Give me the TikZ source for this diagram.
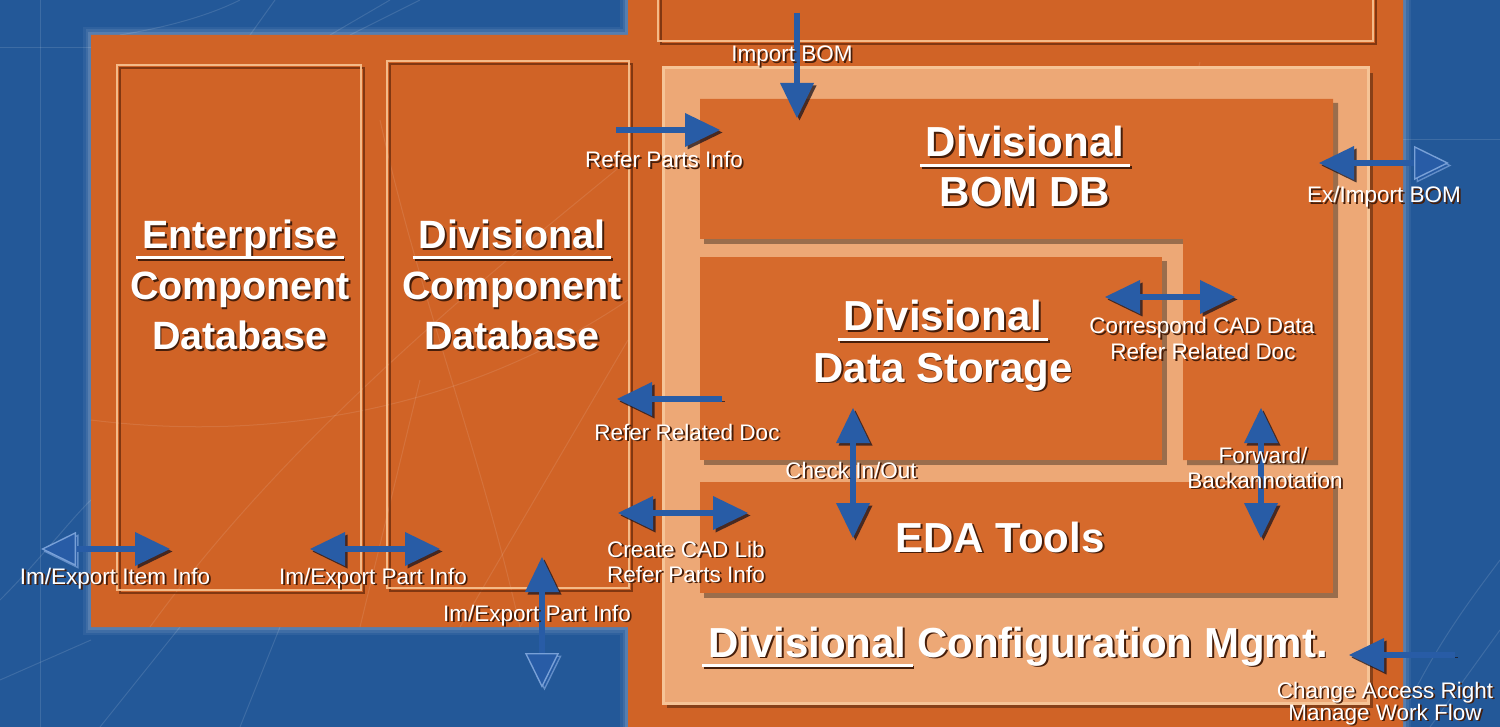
\documentclass[tikz,border=0pt]{standalone}
\usepackage{fontspec}
\setmainfont{Liberation Sans}
\usetikzlibrary{arrows.meta}
\definecolor{bgblue}{RGB}{35,88,152}
\definecolor{orangeA}{RGB}{208,99,38}
\definecolor{orangeB}{RGB}{214,106,44}
\definecolor{peach}{RGB}{237,168,118}
\definecolor{peachlight}{RGB}{246,196,150}
\definecolor{boxlight}{RGB}{244,186,136}
\definecolor{boxdark}{RGB}{110,45,12}
\definecolor{arrowblue}{RGB}{40,92,166}
\definecolor{ghostline}{RGB}{120,160,215}
\definecolor{ashadow}{RGB}{25,20,30}
\definecolor{txtshadow}{RGB}{70,30,10}
\newcommand\shtxt[1]{\rlap{\kern1.8pt\raisebox{-1.8pt}{\color{txtshadow}#1}}#1}
\newcommand\ulw[1]{\setbox0\hbox{#1}\rlap{\kern-6pt\rule[-10pt]{\dimexpr\wd0+12pt\relax}{2.8pt}}\box0}
\tikzset{
  ttl/.style={text=white,font=\fontsize{42}{48}\selectfont\bfseries,anchor=base,inner sep=0pt},
  lttl/.style={text=white,font=\fontsize{39.5}{46}\selectfont\bfseries,anchor=base,inner sep=0pt},
  lbl/.style={text=white,font=\fontsize{22.5}{26}\selectfont,anchor=base,inner sep=0pt},
  tipA/.tip={Triangle[length=35pt,width=34pt,line width=0pt]},
  tipG/.tip={Triangle[length=35pt,width=34pt,line width=1.4pt,color=ghostline,fill=arrowblue]},
  arrowbase/.style={line width=6pt,draw=arrowblue,
     preaction={draw=ashadow,opacity=0.75,transform canvas={shift={(2.5pt,-2.5pt)}}}},
  sarr/.style={arrowbase,-tipA},
  darr/.style={arrowbase,tipA-tipA},
  garrL/.style={arrowbase,tipG-tipA},
  garrR/.style={arrowbase,tipA-tipG},
  boxline/.style={draw=boxlight,line width=2.2pt},
  boxshadow/.style={draw=boxdark,line width=2pt,opacity=0.8},
  dshadow/.style={fill=black,opacity=0.35},
}
\begin{document}
\begin{tikzpicture}[x=1pt,y=-1pt]
\useasboundingbox (0,0) rectangle (1500,727);
% background
\fill[bgblue] (0,0) rectangle (1500,727);
\begin{scope}[draw=white,opacity=0.12,line width=1pt]
  \draw (0,48) -- (91,48);
  \draw (40,0) -- (40,727);
  \draw (1403,140) -- (1500,140);
  \draw (240,0) .. controls (200,20) and (150,30) .. (120,35);
  \draw (250,35) -- (275,0);
  \draw (330,35) -- (390,0);
  \draw (350,35) -- (420,0);
  \draw (0,600) .. controls (40,560) and (70,520) .. (91,500);
  \draw (100,727) -- (180,627);
  \draw (240,727) -- (280,627);
  \draw (1410,700) .. controls (1440,640) and (1470,600) .. (1500,560);
  \draw (1430,727) -- (1500,630);
  \draw (0,680) -- (91,640);
\end{scope}
% main orange region with soft glow
\foreach \w/\o in {16/0.06,11/0.08,6/0.12}{
\path[draw=white,opacity=\o,line width=\w pt]
  (91,35) -- (628,35) -- (628,-5) -- (1403,-5) -- (1403,732) -- (628,732) -- (628,627) -- (91,627) -- cycle;
}
\fill[orangeA]
  (91,35) -- (628,35) -- (628,-5) -- (1403,-5) -- (1403,732) -- (628,732) -- (628,627) -- (91,627) -- cycle;
\begin{scope}[draw=white,opacity=0.10,line width=1pt]
  \draw (150,627) .. controls (300,420) and (520,250) .. (628,160);
  \draw (360,627) -- (420,380);
  \draw (460,627) -- (628,340);
  \draw (91,420) .. controls (250,440) and (450,420) .. (628,300);
  \draw (520,627) .. controls (480,450) and (420,300) .. (380,120);
  \draw (1040,703) -- (1200,62);
\end{scope}
% top box (cut by the top edge)
\draw[boxshadow] (661,-5) rectangle (1376,44);
\draw[boxline] (658,-5) rectangle (1373,41);
% left boxes
\draw[boxshadow] (120,68) rectangle (364,593);
\draw[boxline] (117,65) rectangle (361,590);
\draw[boxshadow] (390,64) rectangle (632,591);
\draw[boxline] (387,61) rectangle (629,588);
% configuration management box
\fill[dshadow] (667,73) rectangle (1373,708);
\fill[peach,draw=peachlight,line width=3pt] (663,68) rectangle (1368,703);
% BOM DB (L-shape)
\fill[dshadow] (704,103) -- (1338,103) -- (1338,465) -- (1187,465) -- (1187,244) -- (704,244) -- cycle;
\fill[orangeB] (700,99) -- (1333,99) -- (1333,460) -- (1183,460) -- (1183,239) -- (700,239) -- cycle;
% data storage
\fill[dshadow] (704,261) rectangle (1167,465);
\fill[orangeB] (700,257) rectangle (1162,460);
% EDA tools
\fill[dshadow] (704,486) rectangle (1338,598);
\fill[orangeB] (700,482) rectangle (1333,593);

% titles
\node[lttl] (ent1) at (240,249) {\shtxt{\ulw{Enterprise}}};
\node[lttl] (ent2) at (240,300) {\shtxt{Component}};
\node[lttl] (ent3) at (240,350) {\shtxt{Database}};
\node[lttl] (dcd1) at (512,249) {\shtxt{\ulw{Divisional}}};
\node[lttl] (dcd2) at (512,300) {\shtxt{Component}};
\node[lttl] (dcd3) at (512,350) {\shtxt{Database}};
\node[ttl] (bom1) at (1025,157) {\shtxt{\ulw{Divisional}}};
\node[ttl] (bom2) at (1025,207) {\shtxt{BOM DB}};
\node[ttl] (dds1) at (943,331) {\shtxt{\ulw{Divisional}}};
\node[ttl] (dds2) at (943,382) {\shtxt{Data Storage}};
\node[ttl] (eda) at (1000,552) {\shtxt{EDA Tools}};
\node[ttl,anchor=base west] (cfg) at (708,657) {\shtxt{\ulw{Divisional}\kern-1pt{} Configuration Mgmt.}};

% arrow end points
\coordinate (ib1) at (797,13);   \coordinate (ib2) at (797,118);
\coordinate (rp1) at (616,130);  \coordinate (rp2) at (720,130);
\coordinate (ex1) at (1319,163); \coordinate (ex2) at (1449,163);
\coordinate (cc1) at (1105,297); \coordinate (cc2) at (1235,297);
\coordinate (rr1) at (722,399);  \coordinate (rr2) at (617,399);
\coordinate (ci1) at (853,408);  \coordinate (ci2) at (853,538);
\coordinate (fw1) at (1261,408); \coordinate (fw2) at (1261,538);
\coordinate (cl1) at (618,513);  \coordinate (cl2) at (748,513);
\coordinate (ii1) at (41,549);   \coordinate (ii2) at (170,549);
\coordinate (pi1) at (310,549);  \coordinate (pi2) at (440,549);
\coordinate (pv1) at (542,557);  \coordinate (pv2) at (542,688);
\coordinate (ca1) at (1455,655); \coordinate (ca2) at (1349,655);

% arrows
\draw[sarr] (ib1) -- (ib2);
\draw[sarr] (rp1) -- (rp2);
\draw[garrR] (ex1) -- (ex2);
\draw[darr] (cc1) -- (cc2);
\draw[sarr] (rr1) -- (rr2);
\draw[darr] (ci1) -- (ci2);
\draw[darr] (fw1) -- (fw2);
\draw[darr] (cl1) -- (cl2);
\draw[garrL] (ii1) -- (ii2);
\draw[darr] (pi1) -- (pi2);
\draw[garrR] (pv1) -- (pv2);
\draw[sarr] (ca1) -- (ca2);

% labels (on top of the arrows)
\node[lbl] (l-ib) at (792,62) {\shtxt{Import BOM}};
\node[lbl] (l-rp) at (664,168) {\shtxt{Refer Parts Info}};
\node[lbl] (l-ex) at (1384,203) {\shtxt{Ex/Import BOM}};
\node[lbl] (l-cc1) at (1202,334) {\shtxt{Correspond CAD Data}};
\node[lbl] (l-cc2) at (1203,360) {\shtxt{Refer Related Doc}};
\node[lbl] (l-rr) at (687,440) {\shtxt{Refer Related Doc}};
\node[lbl] (l-ci) at (851,478) {\shtxt{Check In/Out}};
\node[lbl] (l-fw1) at (1263,463) {\shtxt{Forward/}};
\node[lbl] (l-fw2) at (1265,488) {\shtxt{Backannotation}};
\node[lbl] (l-cl1) at (686,557) {\shtxt{Create CAD Lib}};
\node[lbl] (l-cl2) at (686,582) {\shtxt{Refer Parts Info}};
\node[lbl] (l-ii) at (115,584) {\shtxt{Im/Export Item Info}};
\node[lbl] (l-pi) at (373,584) {\shtxt{Im/Export Part Info}};
\node[lbl] (l-pv) at (537,621) {\shtxt{Im/Export Part Info}};
\node[lbl] (l-ca1) at (1385,698) {\shtxt{Change Access Right}};
\node[lbl] (l-ca2) at (1385,720) {\shtxt{Manage Work Flow}};
\end{tikzpicture}
\end{document}
